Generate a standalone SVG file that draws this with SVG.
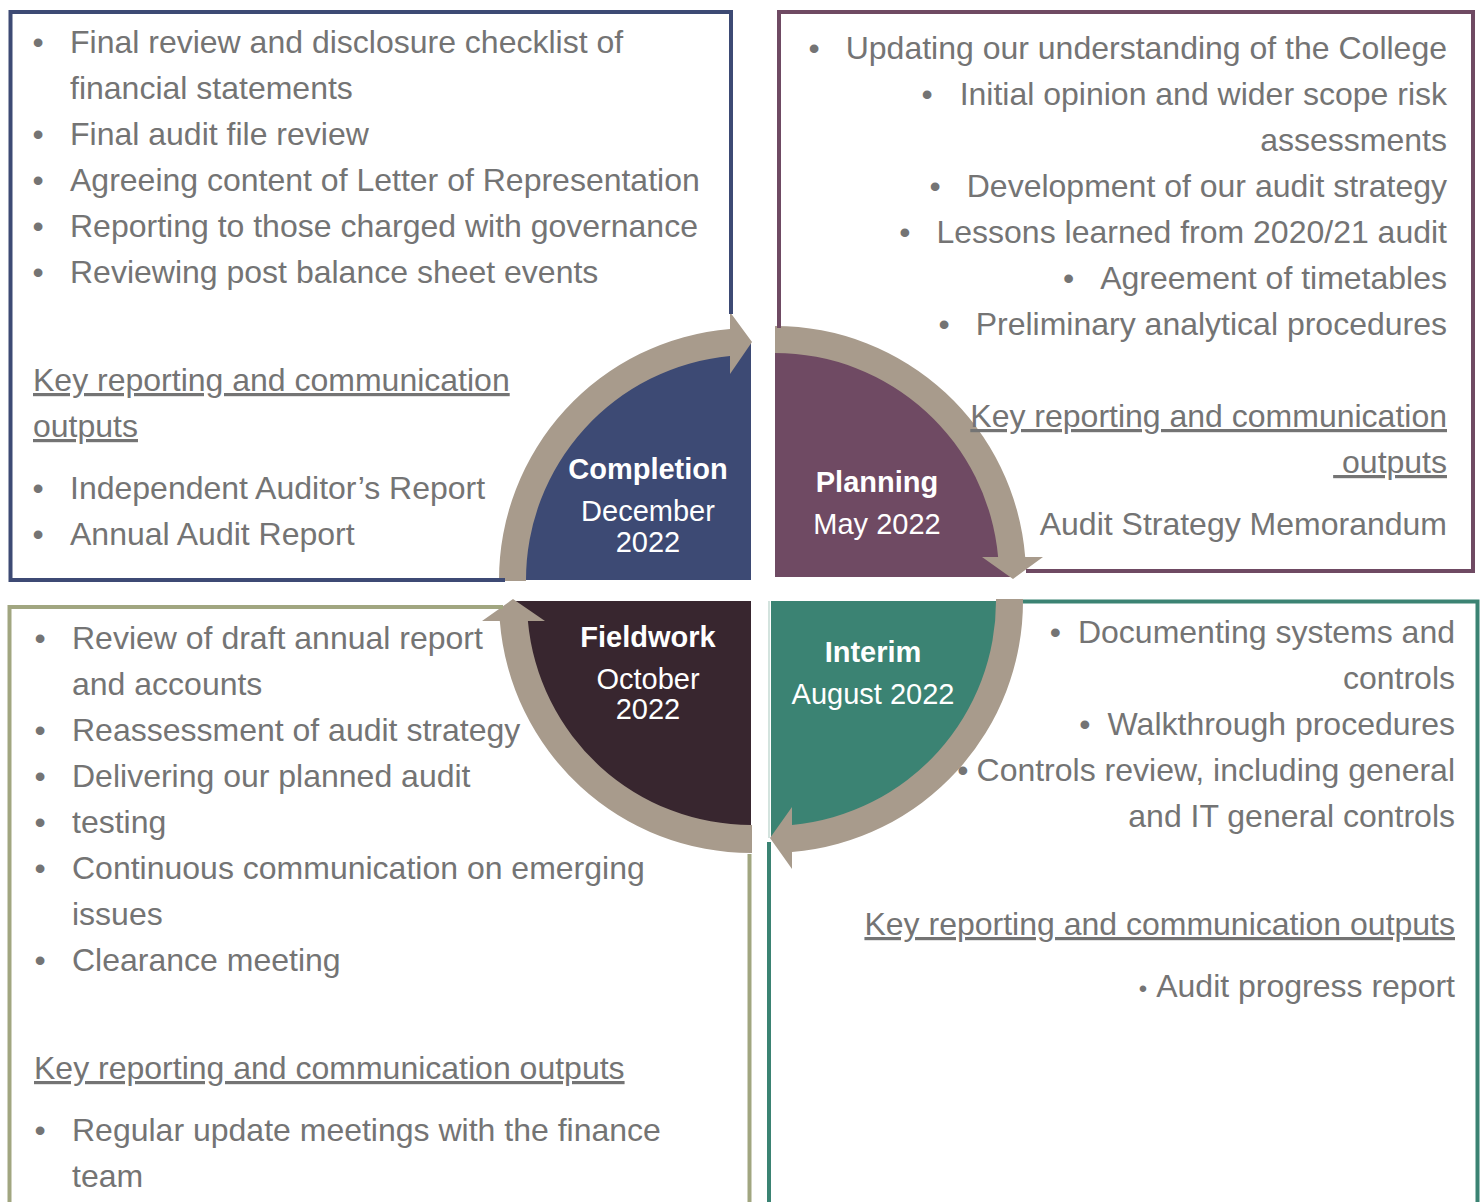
<svg xmlns="http://www.w3.org/2000/svg" width="1480" height="1202" viewBox="0 0 1480 1202">
<style>
.t{font-family:"Liberation Sans",Arial,sans-serif;font-size:32px;fill:#747474}
.e{text-anchor:end}
.m{text-anchor:middle}
.u{text-decoration:underline;text-decoration-skip-ink:none}
.h{font-family:"Liberation Sans",Arial,sans-serif;font-size:29px;fill:#ffffff;text-anchor:middle}
.b{font-weight:bold}
.box{fill:none;stroke-width:4}
.arrow{fill:#a89b8c}
</style>
<rect width="1480" height="1202" fill="#ffffff"/>

<g id="phase-completion">
  <path d="M751,580 L513,580 A238,238 0 0 1 751,342 Z" fill="#3d4a74"/>
  <text class="h b" x="648" y="479">Completion</text>
  <text class="h" x="648" y="521">December</text>
  <text class="h" x="648" y="552">2022</text>
</g>
<g id="phase-planning">
  <path d="M775,577 L775,339 A238,238 0 0 1 1013,577 Z" fill="#6f4a63"/>
  <text class="h b" x="877" y="492">Planning</text>
  <text class="h" x="877" y="534">May 2022</text>
</g>
<g id="phase-fieldwork">
  <path d="M751,601 L513,601 A238,238 0 0 0 751,839 Z" fill="#38262f"/>
  <text class="h b" x="648" y="647">Fieldwork</text>
  <text class="h" x="648" y="689">October</text>
  <text class="h" x="648" y="719">2022</text>
</g>
<g id="phase-interim">
  <path d="M771,601 L1009,601 A238,238 0 0 1 771,839 Z" fill="#3b8373"/>
  <text class="h b" x="873" y="662">Interim</text>
  <text class="h" x="873" y="704">August 2022</text>
</g>

<g id="connectors">
  <path class="arrow" d="M499,581 A252,252 0 0 1 730,328.9 L730,312 L752,342 L730,374 L730,356 A225,225 0 0 0 526,581 Z"/>
  <path class="arrow" d="M775,326 A251,251 0 0 1 1025.2,557 L1043,557 L1013,579 L982,557 L998.1,557 A224,224 0 0 0 775,353 Z"/>
  <path class="arrow" d="M752,853 A252,252 0 0 1 499.8,621 L482,621 L513,599 L545,621 L527.9,621 A224,224 0 0 0 752,825 Z"/>
  <path class="arrow" d="M1023,599 A252,252 0 0 1 792,852.1 L792,869 L770,838 L792,807 L792,825 A225,225 0 0 0 996,599 Z"/>
</g>

<g id="panel-completion">
  <path class="box" stroke="#3d4a74" d="M731,314 V12 H10.5 V580 H505"/>
  <text class="t m" x="38" y="53">•</text>
  <text class="t m" x="38" y="145">•</text>
  <text class="t m" x="38" y="191">•</text>
  <text class="t m" x="38" y="237">•</text>
  <text class="t m" x="38" y="283">•</text>
  <text class="t m" x="38" y="499">•</text>
  <text class="t m" x="38" y="545">•</text>
  <text class="t" x="70" y="53">Final review and disclosure checklist of</text>
  <text class="t" x="70" y="99">financial statements</text>
  <text class="t" x="70" y="145">Final audit file review</text>
  <text class="t" x="70" y="191">Agreeing content of Letter of Representation</text>
  <text class="t" x="70" y="237">Reporting to those charged with governance</text>
  <text class="t" x="70" y="283">Reviewing post balance sheet events</text>
  <text class="t u" x="33" y="391">Key reporting and communication</text>
  <text class="t u" x="33" y="437">outputs</text>
  <text class="t" x="70" y="499">Independent Auditor’s Report</text>
  <text class="t" x="70" y="545">Annual Audit Report</text>
</g>

<g id="panel-planning">
  <path class="box" stroke="#6f4a63" d="M779,328 V12 H1473 V571 H1026"/>
  <text class="t e" x="1447" y="59">•<tspan dx="26">Updating our understanding of the College</tspan></text>
  <text class="t e" x="1447" y="105">•<tspan dx="27">Initial opinion and wider scope risk</tspan></text>
  <text class="t e" x="1447" y="151">assessments</text>
  <text class="t e" x="1447" y="197">•<tspan dx="26">Development of our audit strategy</tspan></text>
  <text class="t e" x="1447" y="243">•<tspan dx="26">Lessons learned from 2020/21 audit</tspan></text>
  <text class="t e" x="1447" y="289">•<tspan dx="26">Agreement of timetables</tspan></text>
  <text class="t e" x="1447" y="335">•<tspan dx="26">Preliminary analytical procedures</tspan></text>
  <text class="t e u" x="1447" y="427">Key reporting and communication</text>
  <text class="t e u" x="1447" y="473">&#160;outputs</text>
  <text class="t e" x="1447" y="535">Audit Strategy Memorandum</text>
</g>

<g id="panel-fieldwork">
  <path class="box" stroke="#a1a680" d="M9.5,1230 V607 H503 M749.5,854 V1230"/>
  <text class="t m" x="40" y="649">•</text>
  <text class="t m" x="40" y="741">•</text>
  <text class="t m" x="40" y="787">•</text>
  <text class="t m" x="40" y="833">•</text>
  <text class="t m" x="40" y="879">•</text>
  <text class="t m" x="40" y="971">•</text>
  <text class="t m" x="40" y="1141">•</text>
  <text class="t" x="72" y="649">Review of draft annual report</text>
  <text class="t" x="72" y="695">and accounts</text>
  <text class="t" x="72" y="741">Reassessment of audit strategy</text>
  <text class="t" x="72" y="787">Delivering our planned audit</text>
  <text class="t" x="72" y="833">testing</text>
  <text class="t" x="72" y="879">Continuous communication on emerging</text>
  <text class="t" x="72" y="925">issues</text>
  <text class="t" x="72" y="971">Clearance meeting</text>
  <text class="t u" x="34" y="1079">Key reporting and communication outputs</text>
  <text class="t" x="72" y="1141">Regular update meetings with the finance</text>
  <text class="t" x="72" y="1187">team</text>
</g>

<g id="panel-interim">
  <path d="M769,601 V838" fill="none" stroke="#d3e3de" stroke-width="2"/>
  <path class="box" stroke="#3b8373" d="M769,842 V1230 M1023,601.5 H1477.5 V1230"/>
  <text class="t e" x="1455" y="643">•<tspan dx="17">Documenting systems and</tspan></text>
  <text class="t e" x="1455" y="689">controls</text>
  <text class="t e" x="1455" y="735">•<tspan dx="17">Walkthrough procedures</tspan></text>
  <text class="t e" x="1455" y="781">•<tspan dx="8">Controls review, including general</tspan></text>
  <text class="t e" x="1455" y="827">and IT general controls</text>
  <text class="t e u" x="1455" y="935">Key reporting and communication outputs</text>
  <text class="t e" x="1455" y="997"><tspan font-size="24">•</tspan><tspan dx="9">Audit progress report</tspan></text>
</g>
</svg>
